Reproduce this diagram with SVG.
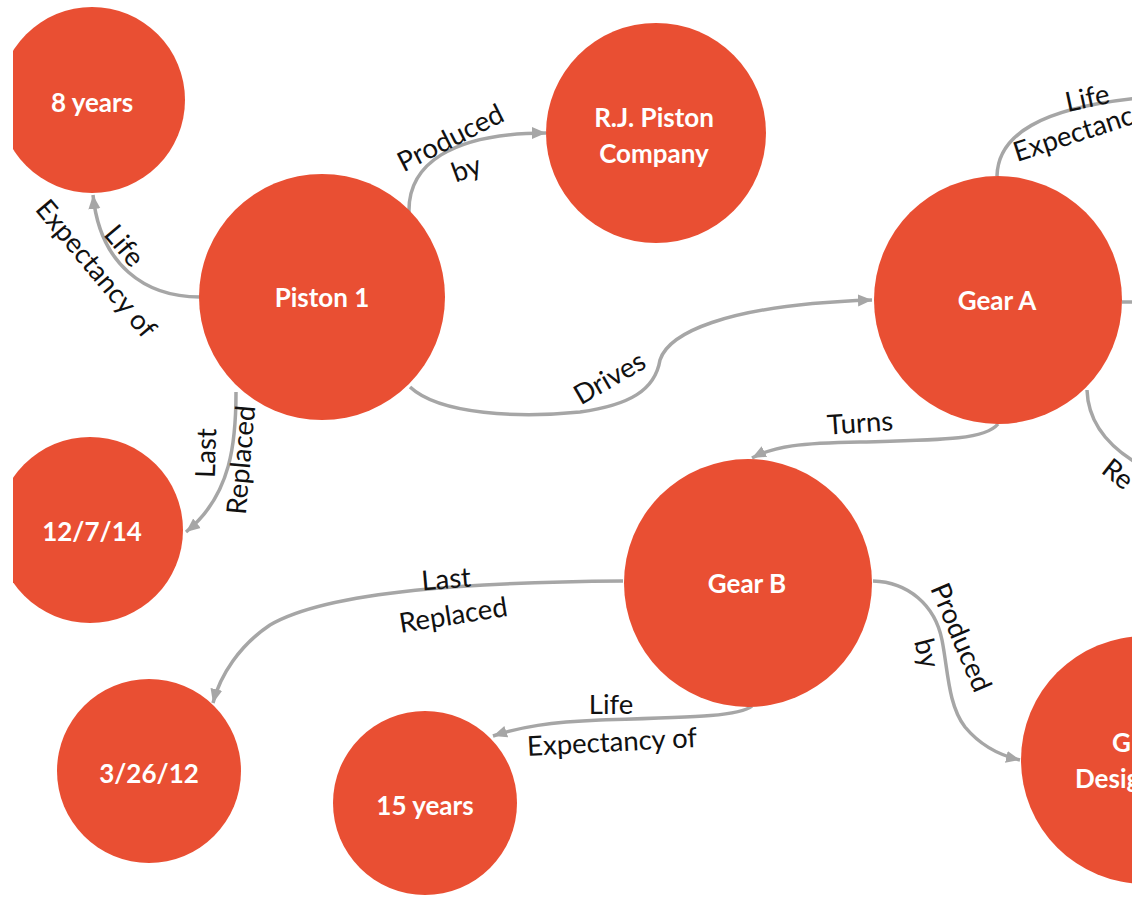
<svg xmlns="http://www.w3.org/2000/svg" width="1132" height="897" viewBox="0 0 1132 897">
<style>
.node{fill:#E94F33}
.nt{font-family:Lato,"Open Sans","Liberation Sans",sans-serif;font-weight:700;font-size:26px;fill:#fff;text-anchor:middle;dominant-baseline:central}
.edge{fill:none;stroke:#A6A6A6;stroke-width:3.5}
.lb{font-family:Lato,"Open Sans","Liberation Sans",sans-serif;font-size:27.5px;fill:#111;text-anchor:middle;dominant-baseline:central}
.lbs{font-family:Lato,"Open Sans","Liberation Sans",sans-serif;font-size:27.5px;fill:#111}
</style>
<defs>
<marker id="arr" markerUnits="userSpaceOnUse" markerWidth="16" markerHeight="14" refX="14" refY="7" orient="auto">
<path d="M0,1 L14,7 L0,13 Z" fill="#A6A6A6"/>
</marker>
<clipPath id="clip"><rect x="13" y="0" width="1119" height="897"/></clipPath>
</defs>
<rect width="1132" height="897" fill="#fff"/>
<g clip-path="url(#clip)">
<g id="connectors">
<path class="edge" d="M200,297 C145,297 100,265 93,195" marker-end="url(#arr)"/>
<path class="edge" d="M409,212 C408,165 450,133 546,133" marker-end="url(#arr)"/>
<path class="edge" d="M410,387 C440,415 520,418 580,412 C630,405 655,390 660,360 C668,335 720,305 872,300" marker-end="url(#arr)"/>
<path class="edge" d="M998,424 C985,440 940,440 860,442 C800,443 775,446 752,458" marker-end="url(#arr)"/>
<path class="edge" d="M997,176 C998,135 1040,108 1140,98"/>
<path class="edge" d="M1087,390 C1088,420 1105,445 1140,465"/>
<path class="edge" d="M1122,302 L1140,302"/>
<path class="edge" d="M236,392 C236,440 232,495 186,532" marker-end="url(#arr)"/>
<path class="edge" d="M623,581 C480,582 330,590 270,625 C240,645 220,675 213,703" marker-end="url(#arr)"/>
<path class="edge" d="M752,706 C740,716 700,717 600,720 C550,722 520,727 493,736" marker-end="url(#arr)"/>
<path class="edge" d="M873,581 C908,582 935,605 942,640 C948,670 948,705 965,727 C980,745 998,755 1020,760" marker-end="url(#arr)"/>
<text class="lb" transform="translate(125,245) rotate(50)">Life</text>
<text class="lb" transform="translate(97,268) rotate(50)">Expectancy of</text>
<text class="lb" transform="translate(450,137) rotate(-27)">Produced</text>
<text class="lb" transform="translate(466,168) rotate(-20)">by</text>
<text class="lb" transform="translate(609,377) rotate(-30)">Drives</text>
<text class="lb" transform="translate(860,422) rotate(-4)">Turns</text>
<text class="lb" transform="translate(1087,97) rotate(-12)">Life</text>
<text class="lbs" transform="translate(1017,162) rotate(-18)">Expectanc</text>
<text class="lbs" transform="translate(1100,472) rotate(38)">Re</text>
<text class="lb" transform="translate(205,453) rotate(-88)">Last</text>
<text class="lb" transform="translate(240,460) rotate(-85)">Replaced</text>
<text class="lb" transform="translate(446,578) rotate(-5)">Last</text>
<text class="lb" transform="translate(453,614) rotate(-9)">Replaced</text>
<text class="lb" transform="translate(611,703)">Life</text>
<text class="lb" transform="translate(612,741) rotate(-3)">Expectancy of</text>
<text class="lb" transform="translate(962,637) rotate(67)">Produced</text>
<text class="lb" transform="translate(928,653) rotate(75)">by</text>
</g>
<g id="n-8years"><circle class="node" cx="92" cy="100" r="93"/><text class="nt" x="92" y="102">8 years</text></g>
<g id="n-rjpiston"><circle class="node" cx="656" cy="133" r="110"/><text class="nt" x="654" y="117">R.J. Piston</text><text class="nt" x="654" y="153">Company</text></g>
<g id="n-piston1"><circle class="node" cx="322" cy="297" r="123"/><text class="nt" x="322" y="297">Piston 1</text></g>
<g id="n-geara"><circle class="node" cx="998" cy="300" r="124"/><text class="nt" x="997" y="300">Gear A</text></g>
<g id="n-12714"><circle class="node" cx="90" cy="530" r="93"/><text class="nt" x="92" y="531">12/7/14</text></g>
<g id="n-gearb"><circle class="node" cx="748" cy="583" r="124"/><text class="nt" x="747" y="583">Gear B</text></g>
<g id="n-32612"><circle class="node" cx="149" cy="771" r="92"/><text class="nt" x="149" y="773">3/26/12</text></g>
<g id="n-15years"><circle class="node" cx="425" cy="803" r="92"/><text class="nt" x="425" y="805">15 years</text></g>
<g id="n-geardesign"><circle class="node" cx="1145" cy="760" r="124"/><text class="nt" style="text-anchor:start" x="1112" y="742">G</text><text class="nt" style="text-anchor:start" x="1075" y="778">Desig</text></g>
</g>
</svg>
